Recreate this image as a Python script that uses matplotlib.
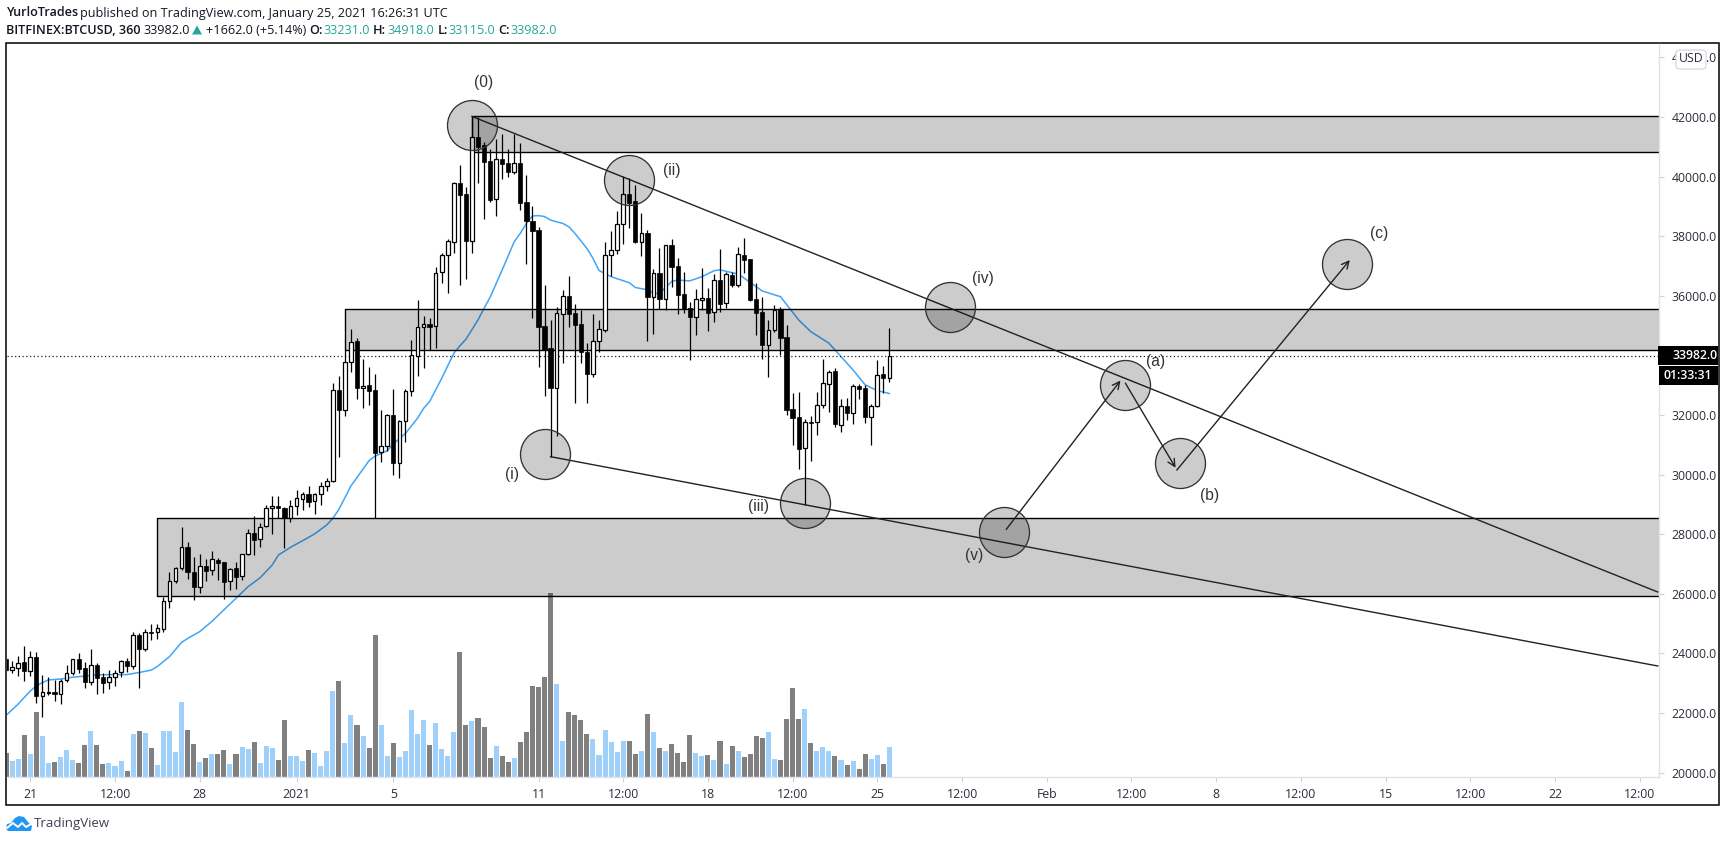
import numpy as np
import matplotlib
matplotlib.use('Agg')
import matplotlib.pyplot as plt
from matplotlib.patches import Rectangle, FancyBboxPatch, Polygon

# 6h candles, bar index 0 = 21 Dec 00:00, first visible bar is -4
opens = [23800,23450,23520,23710,23420,23870,22580,22660,22690,22650,23100,23330,23800,23500,23050,23600,23200,23030,23200,23360,
 23730,23590,24610,24160,24720,24710,24810,25750,26420,26860,27560,26720,26240,26920,26790,27130,27070,26420,26860,26590,
 27320,28030,27830,28260,28870,28930,28870,28560,28930,29190,29340,29100,29340,29610,29770,32830,32180,33790,34470,32900,
 33000,32830,30770,30970,31990,30400,31790,32790,33970,34940,35040,34980,36790,37360,37790,39770,39400,37850,41340,41060,
 40520,39240,40580,40450,40170,40460,39140,38510,38200,34990,34250,32920,35400,35980,35410,35050,34100,33370,34470,34850,
 37380,37530,38400,39410,39180,37790,38100,35950,36750,35880,37690,36990,36050,35580,35300,35870,35920,35450,36520,35770,
 36700,36370,37360,37220,35880,35450,34360,34840,35550,34610,32190,31920,30880,31750,31750,32350,33030,33470,31680,32290,
 32080,32970,32900,31940,32310,33370,33231]
highs = [23890,23750,23910,24250,24080,24050,23280,23200,23110,23150,23610,23820,24000,23700,24140,23670,23330,23440,23440,23780,
 23830,24720,24700,24810,24990,24990,25880,26730,26910,28240,27730,27220,27320,27160,27430,27200,27070,26860,27080,27320,
 28190,28610,28390,28970,29280,29280,28920,29160,29480,29430,29610,29390,29740,29890,33060,33310,34180,34890,34570,33870,
 33600,33360,32170,32020,32870,31830,32870,34520,35860,35320,35240,36980,37430,37910,39830,40390,39660,42010,41990,41170,
 40930,41250,41420,40920,41420,41120,40050,39010,38300,36360,35190,35640,36190,36660,35710,35520,34410,35390,35190,37790,
 38180,38850,40020,39940,39720,38770,38210,36890,37590,37710,37910,37260,36790,35780,36220,36920,36250,36730,37570,36810,
 36810,37650,37930,37220,36440,35950,35190,35680,35610,35020,32730,32760,31860,31980,32780,33880,33510,33570,32530,32560,
 33030,33030,33010,32360,33850,33640,34918]
lows = [23390,23350,23240,23090,23240,22320,21880,22600,22410,22310,23050,23260,23330,22850,22940,22650,22680,22800,22920,23220,
 23390,23480,22850,24090,24450,24500,24730,25530,26370,26800,26510,25790,26030,26430,26630,26460,25840,26130,26160,26460,
 27300,27300,27580,28230,28020,28530,27540,28420,28640,28810,28920,28690,28990,29460,29760,30600,31980,33450,32530,32250,
 32340,28530,30430,30800,29990,29870,31090,32640,33320,33590,34180,34240,36440,36100,37450,36360,36560,37450,39800,38570,
 39160,38680,39930,40000,40090,38880,37070,35260,33620,32640,30600,31300,33760,34940,32410,33730,32410,33290,34130,34800,
 36670,37400,37740,38290,37760,37340,34500,34720,35550,35520,36310,35390,35410,33850,34690,35520,34830,35130,35470,35600,
 36280,36310,36750,35840,34690,33890,33290,34800,34010,32000,30990,30190,28980,30470,31330,32220,32110,31590,31440,31830,
 31700,32540,31720,30990,32260,32750,33115]
closes = [23440,23540,23680,23420,23870,22580,22690,22700,22650,23090,23330,23800,23490,23050,23600,23190,23020,23200,23350,23730,
 23590,24610,24160,24710,24700,24840,25750,26420,26860,27560,26720,26240,26920,26780,27160,27050,26410,26820,26580,27320,
 28030,27820,28230,28870,28930,28870,28530,28930,29200,29340,29090,29340,29610,29770,32830,32180,33770,34440,32920,32960,
 32820,30740,30970,31990,30400,31790,32790,34000,34940,35040,34960,36750,37360,37830,39770,39390,37850,41340,41000,40500,
 39220,40580,40420,40170,40450,39130,38520,38190,34960,34170,32920,35410,35980,35400,35030,34130,33390,34470,34880,37360,
 37530,38400,39410,39130,37820,38100,35970,36750,35880,37690,36980,36040,35550,35300,35880,35930,35430,36520,35740,36720,
 36360,37390,37210,35870,35430,34360,34840,35520,34600,32180,31910,30870,31750,31730,32350,33060,33430,31710,32310,32080,
 32960,32880,31940,32310,33350,33250,33982]
volume = [70,46,52,124,67,193,121,40,43,58,79,49,40,94,136,94,37,40,31,46,
 16,127,136,130,85,34,136,136,73,223,139,97,43,55,67,67,79,37,67,88,
 82,103,40,91,85,49,169,61,61,46,79,70,31,76,256,286,100,184,154,121,
 85,424,154,61,100,58,76,199,127,169,94,160,82,61,133,373,154,166,175,148,
 55,91,61,43,55,103,133,271,268,298,550,277,106,193,184,169,127,112,64,139,
 103,73,106,106,67,76,187,133,85,76,97,70,43,124,70,61,64,49,106,37,
 91,76,58,67,121,115,133,52,49,172,265,172,202,100,76,88,76,61,49,34,
 46,22,67,52,64,37,88]
bars = np.arange(-4, 143)

ma_bars = [-4,-2,0,1,2,3,5,7,9,11,14,16,18,20,21,23,25,26,28,30,32,34,36,38,40,41,43,45,47,49,50,51,53,56,57,59,60,62,64,65,66,68,70,71,72,74,75,76,78,80,81,82,83,84,85,86,88,89,90,92,93,94,96,99,100,102,103,104,106,107,109,111,113,114,117,118,121,124,127,129,132,134,136,138,140,142]
ma_vals = [21920,22300,22740,22910,23020,23110,23140,23200,23240,23280,23290,23290,23360,23440,23560,23890,24370,24500,24730,25070,25460,25850,26240,26540,26970,27300,27560,27780,28010,28310,28530,28830,29620,30470,30620,30800,31030,31380,31890,32220,32450,33230,34070,34320,34540,35190,35580,35950,36870,37820,38100,38430,38680,38690,38660,38540,38430,38320,38100,37590,37260,36850,36640,36440,36280,36200,36080,36080,36480,36530,36500,36640,36840,36870,36730,36590,36160,35970,35190,34800,34410,33960,33510,33010,32820,32720]

zones = [(73, 40825, 42045), (52, 34170, 35545), (21, 25915, 28532)]
upper_line = ([73, 269], [42020, 26060])
lower_line = ([86, 269], [30601, 23577])

circle_bars = [73, 85, 99, 128, 152, 161, 181, 190, 217.6]
circle_vals = [41731, 30691, 39886, 29058, 35638, 28087, 33007, 30389, 37080]

wave_labels = ['(0)', '(i)', '(ii)', '(iii)', '(iv)', '(v)', '(a)', '(b)', '(c)']
label_bars = [75, 79.7, 106.1, 120.3, 157.4, 156, 186, 195, 223]
label_vals = [43141, 30020, 40221, 28923, 36564, 27302, 33779, 29315, 38107]

arrow_from = [(161.3, 28158), (181, 33070), (189.5, 30150)]
arrow_to = [(180.2, 33157), (189.3, 30230), (218.1, 37200)]

price_ticks = np.arange(20000, 46000, 2000)
time_ticks = [0, 14, 28, 44, 60, 84, 98, 112, 126, 140, 154, 168, 182, 196, 210, 224, 238, 252, 266]
time_labels = ['21', '12:00', '28', '2021', '5', '11', '12:00', '18', '12:00', '25', '12:00', 'Feb', '12:00', '8', '12:00', '15', '12:00', '22', '12:00']

last_price = 33982.0

W, H = 1729, 842
plt.rcParams['font.family'] = ['Open Sans', 'DejaVu Sans']
fig = plt.figure(figsize=(W / 100, H / 100), dpi=100, facecolor='white')

def fx(x):
    return x / W

def fy(y):
    return 1 - y / H

# plot area in pixels
left, right, top, bottom = 6.5, 1658.5, 43.5, 776.5
ax = fig.add_axes([fx(left), fy(bottom), fx(right - left), (bottom - top) / H])
ax.set_xlim((left - 30.3) / 6.05, (right - 30.3) / 6.05)
ax.set_ylim(42000 - (bottom - 117) / 0.0298, 42000 + (117 - top) / 0.0298)
ax.set_facecolor('none')

# volume on its own hidden scale, behind the price pane
opens = np.array(opens)
closes = np.array(closes)
up = closes >= opens
vax = ax.twinx()
vax.set_ylim(0, (bottom - top) * 3)
vax.axis('off')
vax.set_zorder(0.5)
vax.bar(bars, volume, width=0.84, color=['#9fd0fa' if u else '#808080' for u in up], lw=0)
ax.set_zorder(1)

for s in ['top', 'left']:
    ax.spines[s].set_visible(False)
for s in ['bottom', 'right']:
    ax.spines[s].set_visible(True)
    ax.spines[s].set_color('#e0e3eb')
    ax.spines[s].set_linewidth(1)
ax.yaxis.tick_right()
ax.yaxis.set_label_position('right')
ax.set_yticks(price_ticks)
ax.set_yticklabels(['%.1f' % p for p in price_ticks])
ax.set_xticks(time_ticks)
ax.set_xticklabels(time_labels)
ax.set_xlim((left - 30.3) / 6.05, (right - 30.3) / 6.05)
ax.set_ylim(42000 - (bottom - 117) / 0.0298, 42000 + (117 - top) / 0.0298)
ax.tick_params(axis='both', labelsize=8.8, labelcolor='#2a2e39', color='#cfd2da', length=3.5, width=0.8)
ax.tick_params(axis='y', pad=6)
ax.tick_params(axis='x', pad=5)

# moving average sits under the zones
ax.plot(ma_bars, ma_vals, color='#42a5f5', lw=1.1, zorder=1)
ax.axhline(last_price, color='#222222', lw=0.9, ls=(0, (1, 2)), zorder=1.5)

for start, lo, hi in zones:
    ax.fill_between([start, 280], lo, hi, color='black', alpha=0.2, lw=0, zorder=2)
    ax.plot([280, start, start, 280], [hi, hi, lo, lo], color='black', lw=1.0, zorder=2.1)

# candles
ax.vlines(bars, lows, highs, color='black', lw=0.9, zorder=4)
ax.bar(bars[up], (closes - opens)[up], bottom=opens[up], width=0.6, facecolor='white', edgecolor='black', lw=0.9, zorder=4.1)
ax.bar(bars[~up], (closes - opens)[~up], bottom=opens[~up], width=0.7, facecolor='black', edgecolor='black', lw=0.5, zorder=4.1)

ax.plot(*upper_line, color='#222222', lw=1.0, zorder=5)
ax.plot(*lower_line, color='#222222', lw=1.0, zorder=5)

# circles keep their round shape, so scatter with a size in points
ax.scatter(circle_bars, circle_vals, s=(2 * 25 * 0.72) ** 2, facecolors=(0, 0, 0, 0.2), edgecolors=(0.2, 0.2, 0.2, 1), linewidths=0.95, zorder=6)

for a, b in zip(arrow_from, arrow_to):
    ax.annotate('', xy=b, xytext=a, arrowprops=dict(arrowstyle='->', color='#222222', lw=1.0, shrinkA=0, shrinkB=0, mutation_scale=13), zorder=7)

for t, x, y in zip(wave_labels, label_bars, label_vals):
    ax.text(x, y, t, ha='center', va='center', fontsize=11.2, color='#333333', family='Liberation Sans', zorder=8)

# outer frame
fig.add_artist(Rectangle((fx(6), fy(805)), fx(1713), 762 / H, transform=fig.transFigure, fill=False, edgecolor='black', lw=1.1))

# price scale labels
fig.add_artist(Rectangle((fx(1658), fy(365)), fx(60), 19 / H, transform=fig.transFigure, facecolor='black', lw=0, zorder=5))
fig.add_artist(Rectangle((fx(1659), fy(385)), fx(59), 19 / H, transform=fig.transFigure, facecolor='black', lw=0, zorder=5))
fig.text(fx(1672), fy(355.5), '33982.0', color='white', fontsize=8.8, weight='semibold', va='center', ha='left', zorder=6)
fig.text(fx(1663), fy(375.5), '01:33:31', color='white', fontsize=8.8, weight='semibold', va='center', ha='left', zorder=6)
fig.add_artist(FancyBboxPatch((fx(1676), fy(69)), fx(30), 19 / H, boxstyle='round,pad=0,rounding_size=0.003', transform=fig.transFigure, facecolor='white', edgecolor='#d5d8e0', lw=0.9, zorder=5))
fig.text(fx(1691), fy(59), 'USD', color='#2a2e39', fontsize=8.8, va='center', ha='center', zorder=6)

# header
hfont = 9.1
dark = '#131722'
teal = '#26a69a'
fig.text(fx(6.5), fy(13), 'YurloTrades', fontsize=hfont, weight='semibold', color=dark, va='center')
fig.text(fx(80), fy(13), 'published on TradingView.com, January 25, 2021 16:26:31 UTC', fontsize=hfont, color=dark, va='center')
fig.text(fx(6.5), fy(30), 'BITFINEX:BTCUSD, 360', fontsize=hfont, weight='semibold', color=dark, va='center')
fig.text(fx(143), fy(30), '33982.0', fontsize=hfont, color=dark, va='center')
fig.add_artist(Polygon([(fx(192), fy(34.5)), (fx(202), fy(34.5)), (fx(197), fy(25.5))], transform=fig.transFigure, facecolor=teal, lw=0))
fig.text(fx(206), fy(30), '+1662.0 (+5.14%)', fontsize=hfont, color=dark, va='center')
for name, nx, val, vx in [('O:', 309, '33231.0', 323.5), ('H:', 373, '34918.0', 387), ('L:', 437.5, '33115.0', 448), ('C:', 498, '33982.0', 510)]:
    fig.text(fx(nx), fy(30), name, fontsize=hfont, weight='semibold', color=dark, va='center')
    fig.text(fx(vx), fy(30), val, fontsize=hfont, color=teal, va='center')

# footer logo
lax = fig.add_axes([fx(6), fy(831), fx(26), 15 / H])
lax.set_xlim(0, 26)
lax.set_ylim(0, 15)
lax.axis('off')
lax.fill([0, 1, 5, 9, 13, 18, 22, 26, 25, 2], [2, 7, 8, 13, 15, 14, 9, 5, 0, 0], color='#2196f3', lw=0)
lax.plot([1, 7, 12, 16, 20, 25], [3, 8, 4, 8, 4, 7], color='white', lw=1.4)
fig.text(fx(34), fy(824), 'TradingView', fontsize=hfont + 0.4, color='#3c4150', va='center')

fig.savefig('out.png', dpi=100, facecolor='white')
